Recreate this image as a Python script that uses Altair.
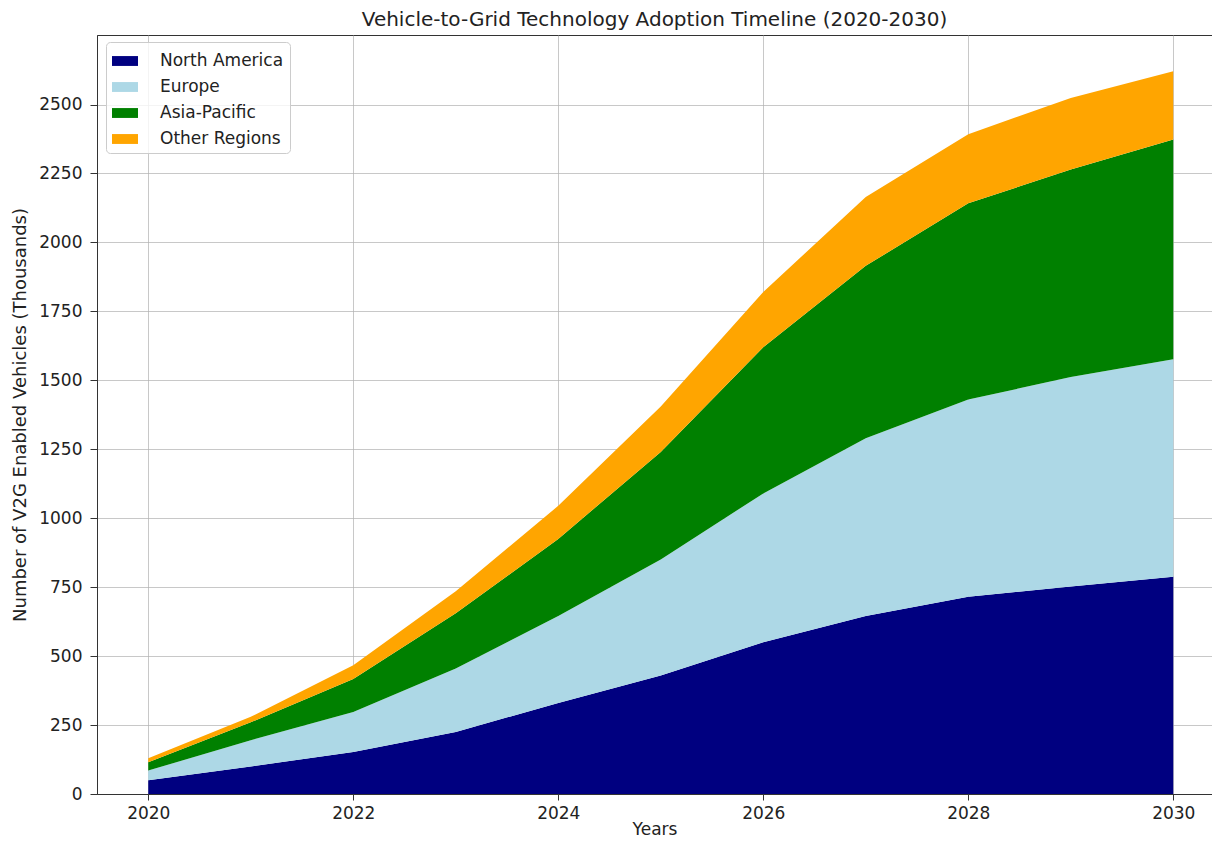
import altair as alt
import pandas as pd

years = [2020, 2021, 2022, 2023, 2024, 2025, 2026, 2027, 2028, 2029, 2030]
north_america = [50, 100, 152, 225, 330, 430, 550, 645, 715, 752, 788]
europe = [35, 95, 145, 230, 315, 420, 540, 645, 715, 760, 788]
asia_pacific = [30, 65, 120, 200, 280, 390, 530, 625, 712, 752, 797]
other_regions = [15, 20, 50, 80, 120, 165, 200, 250, 250, 260, 248]

regions = ["North America", "Europe", "Asia-Pacific", "Other Regions"]
colors = ["#000080", "#add8e6", "#008000", "#ffa500"]
series = [north_america, europe, asia_pacific, other_regions]

x_ticks = [2020, 2022, 2024, 2026, 2028, 2030]
y_ticks = [0, 250, 500, 750, 1000, 1250, 1500, 1750, 2000, 2250, 2500]

rows = []
for i, (name, vals) in enumerate(zip(regions, series)):
    for y, v in zip(years, vals):
        rows.append({"year": y, "region": name, "value": v, "ord": i})
df = pd.DataFrame(rows)

FONT = "DejaVu Sans"

chart = alt.Chart(df).mark_area(interpolate="linear", opacity=1).encode(
    x=alt.X("year:Q",
            scale=alt.Scale(domain=[2019.5, 2030.378], nice=False, zero=False),
            axis=alt.Axis(title="Years", values=x_ticks, format="d",
                          titlePadding=0)),
    y=alt.Y("value:Q", stack="zero",
            scale=alt.Scale(domain=[0, 2752], nice=False),
            axis=alt.Axis(title="Number of V2G Enabled Vehicles (Thousands)",
                          values=y_ticks, format="d", titlePadding=9,
                          titleFontSize=18, tickSize=7, labelPadding=8)),
    color=alt.Color("region:N",
                    scale=alt.Scale(domain=regions, range=colors),
                    legend=alt.Legend(
                        title=None, orient="none", legendX=9, legendY=7,
                        symbolType="M-1,-0.38L1,-0.38L1,0.38L-1,0.38Z",
                        symbolSize=676, symbolStrokeWidth=0, symbolOpacity=1,
                        labelFontSize=17, labelFont=FONT, labelColor="#222",
                        labelOffset=22, padding=6, rowPadding=5,
                        strokeColor="#cccccc", fillColor="rgba(255,255,255,0.8)",
                        cornerRadius=4, zindex=2)),
    order=alt.Order("ord:Q", sort="ascending"),
).properties(
    width=1115,
    height=759,
    title=alt.TitleParams(
        "Vehicle-to-Grid Technology Adoption Timeline (2020-2030)",
        fontSize=20, font=FONT, fontWeight="normal", color="#222",
        anchor="middle", offset=5),
    autosize=alt.AutoSizeParams(type="none"),
    padding={"left": 89, "top": 27, "right": 0, "bottom": 43},
).configure_view(
    stroke="#333", strokeWidth=1
).configure_axis(
    zindex=1, grid=True, gridColor="#b0b0b0", gridOpacity=0.7, gridWidth=1,
    domainColor="#333", domainWidth=1, tickColor="#333", tickSize=6,
    labelFont=FONT, labelFontSize=17, labelColor="#222", labelPadding=5,
    titleFont=FONT, titleFontSize=17, titleFontWeight="normal", titleColor="#222",
)

chart.save("out.html", embed_options={"renderer": "svg", "actions": False})
